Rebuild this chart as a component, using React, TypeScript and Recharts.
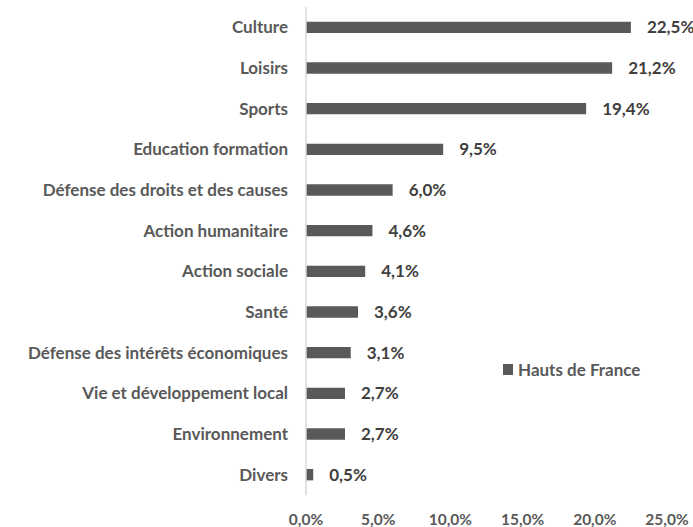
import React from "react";
import { BarChart, Bar, XAxis, YAxis, LabelList } from "recharts";

const categories = [
  "Culture",
  "Loisirs",
  "Sports",
  "Education formation",
  "Défense des droits et des causes",
  "Action humanitaire",
  "Action sociale",
  "Santé",
  "Défense des intérêts économiques",
  "Vie et développement local",
  "Environnement",
  "Divers",
];
const values = [22.5, 21.2, 19.4, 9.5, 6.0, 4.6, 4.1, 3.6, 3.1, 2.7, 2.7, 0.5];
const xTicks = [0, 5, 10, 15, 20, 25];
const seriesName = "Hauts de France";

const data = categories.map((c, i) => ({ name: c, value: values[i] }));

const FONT = "Lato, sans-serif";
const fmt = (v: number) => v.toFixed(1).replace(".", ",") + "%";

export default function App() {
  return (
    <div style={{ position: "absolute", left: 0, top: 0, width: 693, height: 527, background: "#fff" }}>
      <BarChart
        width={693}
        height={527}
        data={data}
        layout="vertical"
        margin={{ top: 7, right: 26, bottom: 0, left: 0 }}
        barCategoryGap="64%"
      >
        <XAxis
          type="number"
          domain={[0, 25]}
          ticks={xTicks}
          tickFormatter={(v: number) => fmt(v)}
          axisLine={false}
          tickLine={false}
          tickSize={0}
          tickMargin={19}
          height={32}
          tick={{ fill: "#595959", fontSize: 15.5, fontWeight: 700, fontFamily: FONT }}
        />
        <YAxis
          type="category"
          dataKey="name"
          width={306}
          axisLine={{ stroke: "#d9d9d9", strokeWidth: 1.5 }}
          tickLine={false}
          tickSize={0}
          tickMargin={18}
          interval={0}
          tick={{ fill: "#595959", fontSize: 17, fontWeight: 700, fontFamily: FONT }}
        />
        <Bar dataKey="value" name={seriesName} fill="#595959" isAnimationActive={false}>
          <LabelList
            dataKey="value"
            position="right"
            offset={16}
            formatter={(v: number) => fmt(v)}
            style={{ fill: "#404040", fontSize: 17, fontWeight: 700, fontFamily: FONT }}
          />
        </Bar>
      </BarChart>
      <div
        style={{
          position: "absolute",
          left: 503,
          top: 359,
          height: 20,
          display: "flex",
          alignItems: "center",
          fontFamily: FONT,
          fontWeight: 700,
          fontSize: 17,
          color: "#595959",
          whiteSpace: "nowrap",
        }}
      >
        <span style={{ display: "inline-block", width: 10, height: 11, background: "#595959", marginRight: 5 }} />
        {seriesName}
      </div>
    </div>
  );
}
